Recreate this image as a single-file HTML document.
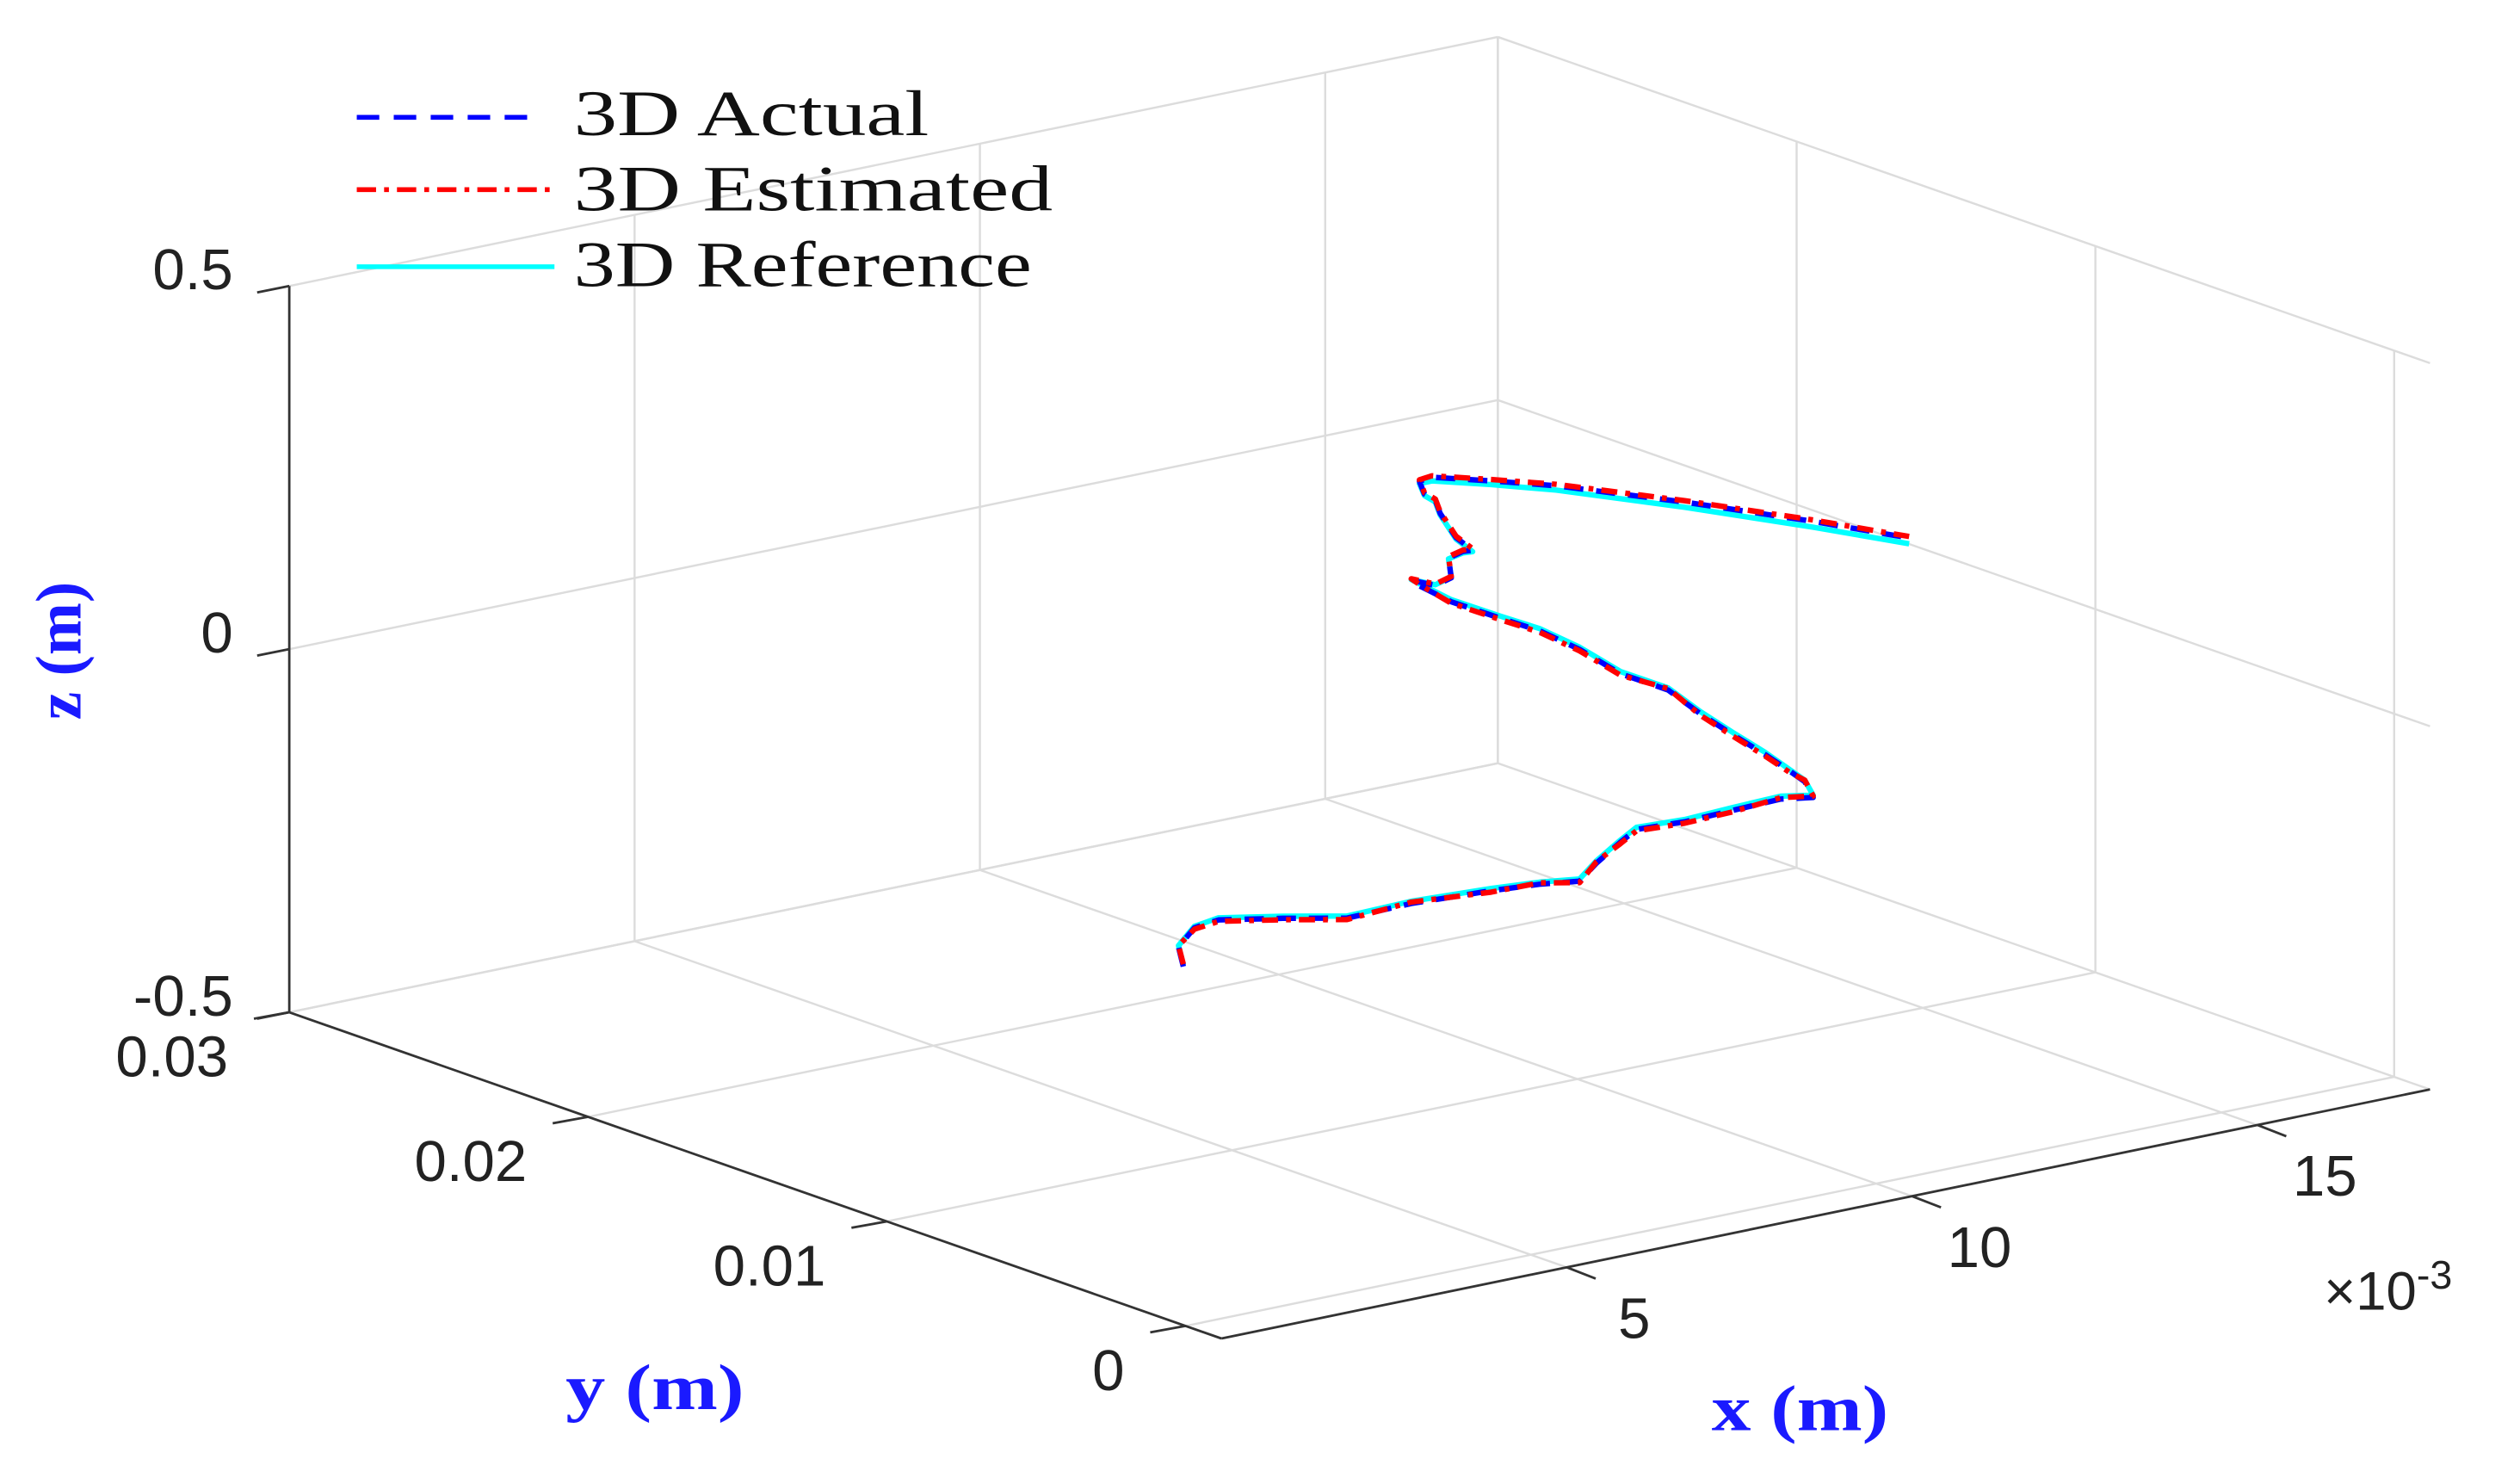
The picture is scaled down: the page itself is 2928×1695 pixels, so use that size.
<!DOCTYPE html>
<html><head><meta charset="utf-8"><style>
html,body{margin:0;padding:0;background:#fff;}
svg{display:block;}
</style></head><body>
<svg id="chart" width="2928" height="1695" viewBox="0 0 1568 908" preserveAspectRatio="none" xmlns="http://www.w3.org/2000/svg">
<g id="grid"></g>
<g id="axes"></g>
<g id="series"></g>
<g id="legend">
  <line x1="222" y1="73" x2="335" y2="73" stroke="#0000ff" stroke-width="3" stroke-dasharray="14,9"/>
  <text x="357" y="84" textLength="221" lengthAdjust="spacingAndGlyphs" font-family="Liberation Serif, serif" font-size="40" fill="#111">3D Actual</text>
  <line x1="222" y1="118" x2="345" y2="118" stroke="#ff0000" stroke-width="3" stroke-dasharray="12,5,3,5"/>
  <text x="357" y="131" textLength="298" lengthAdjust="spacingAndGlyphs" font-family="Liberation Serif, serif" font-size="40" fill="#111">3D Estimated</text>
  <line x1="222" y1="166" x2="345" y2="166" stroke="#00ffff" stroke-width="3"/>
  <text x="357" y="178" textLength="285" lengthAdjust="spacingAndGlyphs" font-family="Liberation Serif, serif" font-size="40" fill="#111">3D Reference</text>
</g>
<text x="50" y="405" transform="rotate(-90 50 405)" text-anchor="middle" textLength="86" lengthAdjust="spacingAndGlyphs" font-family="Liberation Serif, serif" font-weight="bold" font-size="40" fill="#1a1aff">z (m)</text>
<text x="352" y="877" textLength="111" lengthAdjust="spacingAndGlyphs" font-family="Liberation Serif, serif" font-weight="bold" font-size="40" fill="#1a1aff">y (m)</text>
<text x="1065" y="890" textLength="110" lengthAdjust="spacingAndGlyphs" font-family="Liberation Serif, serif" font-weight="bold" font-size="40" fill="#1a1aff">x (m)</text>
<text x="1446" y="815" font-family="Liberation Sans, sans-serif" font-size="34" fill="#222">×10<tspan dy="-13" font-size="25">-3</tspan></text>
</svg>
<script>
const xTicks = [0.005, 0.010, 0.015];
const xTickLabels = ["5", "10", "15"];
const yTicks = [0, 0.01, 0.02, 0.03];
const yTickLabels = ["0", "0.01", "0.02", "0.03"];
const zTicks = [-0.5, 0, 0.5];
const zTickLabels = ["-0.5", "0", "0.5"];
const trajY = 0.0145;
const trajX = [6.24,6.17,6.40,6.75,7.68,8.61,9.54,10.70,11.40,11.98,12.22,12.57,12.80,13.50,14.20,14.89,15.36,15.24,15.01,14.66,14.20,13.73,13.26,12.57,11.98,11.40,10.82,10.12,9.66,9.54,9.89,10.12,10.08,10.29,10.43,10.19,9.96,9.89,9.73,9.66,9.84,10.70,11.64,13.50,15.36,16.75];
const actualZ = [-0.336,-0.308,-0.286,-0.282,-0.298,-0.316,-0.314,-0.319,-0.324,-0.331,-0.311,-0.289,-0.276,-0.279,-0.277,-0.275,-0.282,-0.258,-0.238,-0.209,-0.173,-0.135,-0.093,-0.057,-0.012,0.025,0.054,0.090,0.121,0.131,0.117,0.123,0.151,0.156,0.155,0.177,0.215,0.234,0.246,0.265,0.267,0.245,0.220,0.161,0.098,0.048];
const estimatedZ = [-0.333,-0.306,-0.288,-0.284,-0.300,-0.318,-0.312,-0.321,-0.322,-0.333,-0.309,-0.291,-0.278,-0.281,-0.279,-0.273,-0.280,-0.256,-0.240,-0.211,-0.175,-0.137,-0.091,-0.059,-0.014,0.023,0.052,0.088,0.123,0.133,0.119,0.125,0.153,0.158,0.157,0.179,0.217,0.236,0.248,0.267,0.269,0.247,0.222,0.163,0.100,0.050];
const referenceZ = [-0.334,-0.306,-0.284,-0.279,-0.295,-0.313,-0.311,-0.316,-0.321,-0.328,-0.308,-0.286,-0.273,-0.276,-0.273,-0.271,-0.279,-0.256,-0.236,-0.206,-0.170,-0.132,-0.090,-0.054,-0.009,0.028,0.057,0.093,0.124,0.132,0.118,0.124,0.150,0.154,0.153,0.175,0.213,0.232,0.244,0.262,0.262,0.240,0.214,0.154,0.090,0.040];

const XMIN=0, XMAX=0.0175, YMIN=-0.0012, YMAX=0.03, ZMIN=-0.5, ZMAX=0.5;
function proj(x,y,z){
  const fx=(x-XMIN)/(XMAX-XMIN), fy=(y-YMIN)/(YMAX-YMIN), fz=(z-ZMIN)/(ZMAX-ZMIN);
  return [760+752*fx-580*fy, 833-155*fx-203*fy-452*fz];
}
const NS="http://www.w3.org/2000/svg";
function mk(tag,attrs,parent){const e=document.createElementNS(NS,tag);for(const k in attrs)e.setAttribute(k,attrs[k]);parent.appendChild(e);return e;}
function line(p,q,stroke,w,parent){return mk('line',{x1:p[0],y1:p[1],x2:q[0],y2:q[1],stroke:stroke,'stroke-width':w},parent);}
const grid=document.getElementById('grid'), axes=document.getElementById('axes'), series=document.getElementById('series');
const GC="#dcdcdc";
xTicks.concat([XMAX]).forEach(x=>{const l=line(proj(x,YMAX,ZMIN),proj(x,YMAX,ZMAX),GC,1.3,grid);

});
zTicks.forEach(z=>{const l=line(proj(XMIN,YMAX,z),proj(XMAX,YMAX,z),GC,1.3,grid);

});
yTicks.forEach(y=>{const l=line(proj(XMAX,y,ZMIN),proj(XMAX,y,ZMAX),GC,1.3,grid);

});
zTicks.forEach(z=>{const l=line(proj(XMAX,YMIN,z),proj(XMAX,YMAX,z),GC,1.3,grid);

});
xTicks.forEach(x=>{const l=line(proj(x,YMIN,ZMIN),proj(x,YMAX,ZMIN),GC,1.3,grid);

});
yTicks.forEach(y=>{const l=line(proj(XMIN,y,ZMIN),proj(XMAX,y,ZMIN),GC,1.3,grid);

});
const AC="#333";
let a=line(proj(XMIN,YMAX,ZMIN),proj(XMIN,YMAX,ZMAX),AC,1.5,axes);


a=line(proj(XMIN,YMIN,ZMIN),proj(XMIN,YMAX,ZMIN),AC,1.5,axes);


a=line(proj(XMIN,YMIN,ZMIN),proj(XMAX,YMIN,ZMIN),AC,1.5,axes);


function label(txt,x,y,anchor,name){const t=mk('text',{x:x,y:y,'text-anchor':anchor,'font-family':'Liberation Sans, sans-serif','font-size':36,fill:'#222'},axes);t.textContent=txt;

}
zTicks.forEach((z,i)=>{const p=proj(XMIN,YMAX,z);const t=line(p,[p[0]-20,p[1]+4],AC,1.5,axes);


label(zTickLabels[i],p[0]-35,p[1]+2,'end','z-tick-label');});
yTicks.forEach((y,i)=>{const p=proj(XMIN,y,ZMIN);const t=line(p,[p[0]-22,p[1]+4],AC,1.5,axes);


label(yTickLabels[i],p[0]-38,p[1]+40,'end','y-tick-label');});
xTicks.forEach((x,i)=>{const p=proj(x,YMIN,ZMIN);const t=line(p,[p[0]+18,p[1]+7],AC,1.5,axes);


label(xTickLabels[i],p[0]+42,p[1]+44,'middle','x-tick-label');});
function path(zs,stroke,dash,name){
  const d=trajX.map((x,i)=>{const p=proj(x*1e-3,trajY,zs[i]);return (i?'L':'M')+p[0].toFixed(1)+' '+p[1].toFixed(1);}).join(' ');
  const e=mk('path',{d:d,fill:'none',stroke:stroke,'stroke-width':3.4,'stroke-linejoin':'round'},series);
  if(dash)e.setAttribute('stroke-dasharray',dash);
  
  
}
path(referenceZ,'#00ffff',null,'series-3d-reference');
path(actualZ,'#0000ff','12,8','series-3d-actual');
path(estimatedZ,'#ff0000','10,5,3,5','series-3d-estimated');
</script>
</body></html>
